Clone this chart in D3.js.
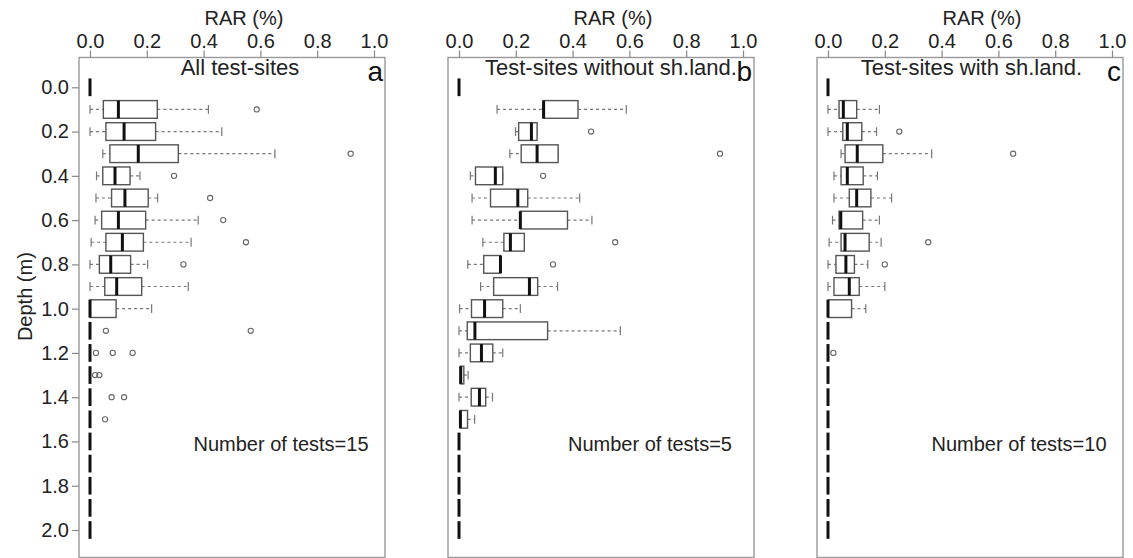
<!DOCTYPE html>
<html>
<head>
<meta charset="utf-8">
<script src="https://cdn.jsdelivr.net/npm/d3@7"></script>
<style>
  html, body { margin: 0; padding: 0; background: #fff; }
  svg { display: block; font-family: "Liberation Sans", Arial, sans-serif; }
</style>
</head>
<body>
<svg id="chart" width="1133" height="558"></svg>
<script>
// ---------------- DATA ----------------
const depths = [0.0, 0.1, 0.2, 0.3, 0.4, 0.5, 0.6, 0.7, 0.8, 0.9, 1.0,
                1.1, 1.2, 1.3, 1.4, 1.5, 1.6, 1.7, 1.8, 1.9, 2.0];
const xTicks = [0.0, 0.2, 0.4, 0.6, 0.8, 1.0];
const yTicks = [0.0, 0.2, 0.4, 0.6, 0.8, 1.0, 1.2, 1.4, 1.6, 1.8, 2.0];

const panelTitles = ["All test-sites", "Test-sites without sh.land.", "Test-sites with sh.land."];
const panelLetters = ["a", "b", "c"];
const testCounts = [15, 5, 10];

// [lower whisker, Q1, median, Q3, upper whisker] per depth
const statsA = [
  [0, 0, 0, 0, 0],
  [0, 0.047, 0.100, 0.237, 0.417],
  [0, 0.056, 0.120, 0.231, 0.464],
  [0.045, 0.070, 0.170, 0.311, 0.651],
  [0.023, 0.045, 0.088, 0.141, 0.176],
  [0.021, 0.076, 0.123, 0.205, 0.238],
  [0.018, 0.041, 0.100, 0.196, 0.381],
  [0.004, 0.056, 0.114, 0.188, 0.356],
  [0, 0.033, 0.073, 0.143, 0.203],
  [0, 0.052, 0.094, 0.182, 0.346],
  [0, 0, 0, 0.092, 0.217],
  [0, 0, 0, 0, 0], [0, 0, 0, 0, 0], [0, 0, 0, 0, 0], [0, 0, 0, 0, 0],
  [0, 0, 0, 0, 0], [0, 0, 0, 0, 0], [0, 0, 0, 0, 0], [0, 0, 0, 0, 0],
  [0, 0, 0, 0, 0], [0, 0, 0, 0, 0]
];
const outliersA = [
  [], [0.587], [], [0.918], [0.296], [0.423], [0.469], [0.549], [0.329], [], [],
  [0.056, 0.566], [0.021, 0.080, 0.150], [0.018, 0.033], [0.076, 0.120], [0.053],
  [], [], [], [], []
];

const statsB = [
  [0, 0, 0, 0, 0],
  [0.134, 0.296, 0.298, 0.419, 0.589],
  [0.199, 0.210, 0.255, 0.275, 0.275],
  [0.179, 0.219, 0.275, 0.349, 0.349],
  [0.040, 0.058, 0.128, 0.154, 0.154],
  [0.046, 0.111, 0.207, 0.242, 0.425],
  [0.046, 0.216, 0.216, 0.382, 0.468],
  [0.084, 0.158, 0.181, 0.230, 0.230],
  [0.031, 0.087, 0.146, 0.146, 0.146],
  [0.076, 0.122, 0.248, 0.277, 0.347],
  [0.002, 0.044, 0.090, 0.154, 0.216],
  [0, 0.029, 0.056, 0.312, 0.568],
  [0, 0.040, 0.079, 0.119, 0.154],
  [0.005, 0.005, 0.006, 0.017, 0.032],
  [0, 0.043, 0.072, 0.094, 0.118],
  [0.004, 0.004, 0.005, 0.030, 0.055],
  [0, 0, 0, 0, 0], [0, 0, 0, 0, 0], [0, 0, 0, 0, 0],
  [0, 0, 0, 0, 0], [0, 0, 0, 0, 0]
];
const outliersB = [
  [], [], [0.465], [0.919], [0.296], [], [], [0.550], [0.331], [], [],
  [], [], [], [], [], [], [], [], [], []
];

const statsC = [
  [0, 0, 0, 0, 0],
  [0, 0.039, 0.054, 0.101, 0.181],
  [0, 0.052, 0.068, 0.119, 0.171],
  [0.046, 0.060, 0.103, 0.193, 0.365],
  [0.021, 0.046, 0.068, 0.124, 0.174],
  [0.021, 0.075, 0.101, 0.151, 0.224],
  [0.016, 0.039, 0.045, 0.122, 0.181],
  [0.004, 0.046, 0.060, 0.145, 0.187],
  [0, 0.028, 0.063, 0.093, 0.140],
  [0, 0.021, 0.075, 0.110, 0.200],
  [0, 0, 0, 0.083, 0.133],
  [0, 0, 0, 0, 0], [0, 0, 0, 0, 0], [0, 0, 0, 0, 0], [0, 0, 0, 0, 0],
  [0, 0, 0, 0, 0], [0, 0, 0, 0, 0], [0, 0, 0, 0, 0], [0, 0, 0, 0, 0],
  [0, 0, 0, 0, 0], [0, 0, 0, 0, 0]
];
const outliersC = [
  [], [], [0.251], [0.652], [], [], [], [0.353], [0.200], [], [],
  [], [0.019], [], [], [], [], [], [], [], []
];

// ---------------- LAYOUT ----------------
const panelStats = [statsA, statsB, statsC];
const panelOutliers = [outliersA, outliersB, outliersC];
const panelLeft = [79, 448, 817];
const frameW = 306, frameTop = 57.5, frameBottom = 557.5;
const titleAt = [0.528, 0.535, 0.505];   // title centre in data units

const TEXT = "#222";
const svg = d3.select("#chart");

const y = d3.scaleLinear().domain([0, 2]).range([87.3, 530]);
const rowH = y(0.1) - y(0);
const half = rowH * 0.4;

panelStats.forEach((stats, p) => {
  const L = panelLeft[p];
  const x = d3.scaleLinear().domain([0, 1]).range([L + 11, L + 295]);
  const g = svg.append("g");

  // frame
  g.append("rect")
    .attr("x", L).attr("y", frameTop)
    .attr("width", frameW).attr("height", frameBottom - frameTop)
    .attr("fill", "none").attr("stroke", "#999").attr("stroke-width", 1.4);

  // top axis
  const ax = g.append("g").attr("transform", `translate(0,${frameTop})`)
    .call(d3.axisTop(x).tickValues(xTicks).tickFormat(d3.format(".1f"))
      .tickSize(7).tickSizeOuter(0).tickPadding(3));
  ax.select(".domain").remove();
  ax.selectAll(".tick line").attr("stroke", "#888").attr("stroke-width", 1.2);
  ax.selectAll(".tick text").attr("fill", TEXT).attr("font-size", 20)
    .attr("font-family", "Liberation Sans, Arial, sans-serif");

  g.append("text").attr("x", x(0.5) + 12).attr("y", 25)
    .attr("text-anchor", "middle").attr("font-size", 20).attr("fill", TEXT)
    .text("RAR (%)");

  // left axis only on first panel
  if (p === 0) {
    const ay = g.append("g").attr("transform", `translate(${L},0)`)
      .call(d3.axisLeft(y).tickValues(yTicks).tickFormat(d3.format(".1f"))
        .tickSize(7).tickSizeOuter(0).tickPadding(3));
    ay.select(".domain").remove();
    ay.selectAll(".tick line").attr("stroke", "#888").attr("stroke-width", 1.2);
    ay.selectAll(".tick text").attr("fill", TEXT).attr("font-size", 20)
      .attr("font-family", "Liberation Sans, Arial, sans-serif");
    g.append("text")
      .attr("transform", `translate(32,${(y(0) + y(2)) / 2 - 12}) rotate(-90)`)
      .attr("text-anchor", "middle").attr("font-size", 20).attr("fill", TEXT)
      .text("Depth (m)");
  }

  // title, letter, count
  g.append("text").attr("x", x(titleAt[p])).attr("y", 75)
    .attr("text-anchor", "middle").attr("font-size", 22).attr("fill", TEXT)
    .text(panelTitles[p]);
  g.append("text").attr("x", L + frameW - 2).attr("y", 81)
    .attr("text-anchor", "end").attr("font-size", 28).attr("fill", "#111")
    .text(panelLetters[p]);
  g.append("text").attr("x", L + 202).attr("y", 451)
    .attr("text-anchor", "middle").attr("font-size", 20).attr("fill", TEXT)
    .text("Number of tests=" + testCounts[p]);

  // boxes
  stats.forEach((s, i) => {
    const cy = y(depths[i]);
    const [lo, q1, med, q3, hi] = s;
    const allZero = s.every(v => v === 0);
    if (!allZero) {
      [[lo, q1], [q3, hi]].forEach(([a, b]) => {
        if (b > a) {
          g.append("line").attr("x1", x(a)).attr("x2", x(b))
            .attr("y1", cy).attr("y2", cy)
            .attr("stroke", "#777").attr("stroke-width", 1.2)
            .attr("stroke-dasharray", "3,3");
        }
      });
      [lo, hi].forEach(v => {
        g.append("line").attr("x1", x(v)).attr("x2", x(v))
          .attr("y1", cy - half / 2).attr("y2", cy + half / 2)
          .attr("stroke", "#777").attr("stroke-width", 1.2);
      });
      g.append("rect").attr("x", x(q1)).attr("y", cy - half)
        .attr("width", Math.max(0, x(q3) - x(q1))).attr("height", 2 * half)
        .attr("fill", "#fff").attr("stroke", "#555").attr("stroke-width", 1.4);
    }
    g.append("line").attr("x1", x(med)).attr("x2", x(med))
      .attr("y1", cy - half).attr("y2", cy + half)
      .attr("stroke", "#111").attr("stroke-width", 3);

    panelOutliers[p][i].forEach(v => {
      g.append("circle").attr("cx", x(v)).attr("cy", cy).attr("r", 2.6)
        .attr("fill", "none").attr("stroke", "#666").attr("stroke-width", 1.1);
    });
  });
});
</script>
</body>
</html>
